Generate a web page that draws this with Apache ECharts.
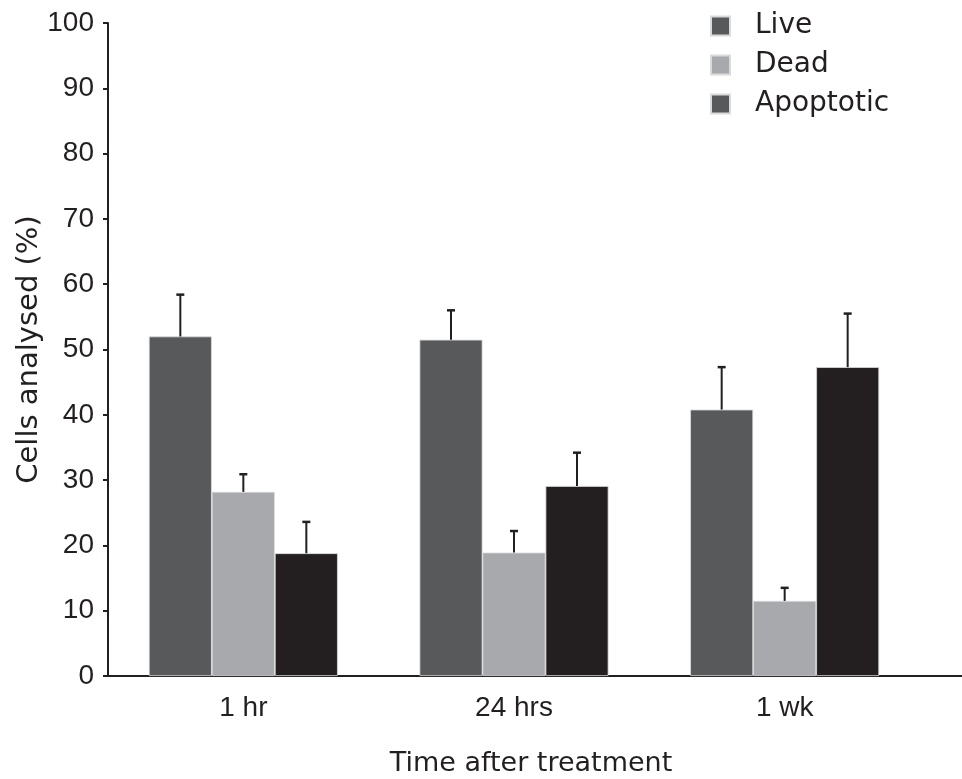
<!DOCTYPE html>
<html>
<head>
<meta charset="utf-8">
<script src="https://cdn.jsdelivr.net/npm/echarts@6/dist/echarts.min.js"></script>
<style>
  html, body { margin: 0; padding: 0; background: #fff; }
  #main { width: 962px; height: 779px; }
</style>
</head>
<body>
<div id="main"></div>
<script>
const categories = ['1 hr', '24 hrs', '1 wk'];
const live = [52.0, 51.5, 40.8];
const liveErr = [6.4, 4.5, 6.5];
const dead = [28.2, 18.9, 11.5];
const deadErr = [2.7, 3.3, 2.0];
const apoptotic = [18.8, 29.1, 47.3];
const apoptoticErr = [4.8, 5.1, 8.2];

const INK = '#231f20';
const BAR_W = 63;
const GRID_RIGHT = 42;

const chart = echarts.init(document.getElementById('main'));

// upward-only error whiskers, shifted to sit on the matching bar
function errorSeries(name, vals, errs, offset) {
  return {
    type: 'custom',
    name: name + ' error',
    z: 10,
    silent: true,
    data: vals.map((v, i) => [i, v, errs[i]]),
    encode: { x: 0, y: 1 },
    renderItem: (params, api) => {
      const base = api.coord([api.value(0), api.value(1)]);
      const top = api.coord([api.value(0), api.value(1) + api.value(2)]);
      const x = base[0] + offset;
      return {
        type: 'group',
        children: [
          { type: 'line', shape: { x1: x, y1: base[1], x2: x, y2: top[1] }, style: { stroke: INK, lineWidth: 2 } },
          { type: 'line', shape: { x1: x - 4, y1: top[1], x2: x + 4, y2: top[1] }, style: { stroke: INK, lineWidth: 2.5 } }
        ]
      };
    }
  };
}

function barSeries(name, vals, color) {
  return {
    type: 'bar',
    name: name,
    data: vals,
    barWidth: BAR_W,
    barGap: '0%',
    itemStyle: { color: color, borderColor: '#d9dadb', borderWidth: 0.8 }
  };
}

const option = {
  animation: false,
  backgroundColor: '#fff',
  grid: { left: 108, right: GRID_RIGHT, top: 23, bottom: 103, outerBoundsMode: 'none' },
  legend: {
    orient: 'vertical',
    left: 705,
    top: 7,
    icon: 'rect',
    itemWidth: 19,
    itemHeight: 19,
    itemGap: 11,
    textStyle: { fontFamily: 'DejaVu Sans', fontSize: 28, color: INK, padding: [0, 0, 0, 20] },
    data: [
      { name: 'Live' },
      { name: 'Dead' },
      { name: 'Apoptotic', itemStyle: { color: '#58595b' } }
    ]
  },
  xAxis: {
    type: 'category',
    data: categories,
    name: 'Time after treatment',
    nameLocation: 'middle',
    nameGap: 74,
    nameMoveOverlap: false,
    nameTextStyle: { fontFamily: 'DejaVu Sans', fontSize: 27, color: INK, padding: [0, 0, 0, 34] },
    axisLine: { lineStyle: { color: INK, width: 2 } },
    axisTick: { length: 6, lineStyle: { color: INK, width: 2 } },
    axisLabel: { fontFamily: 'Liberation Sans', fontSize: 28, color: INK, margin: 18 }
  },
  yAxis: {
    type: 'value',
    min: 0,
    max: 100,
    interval: 10,
    name: 'Cells analysed (%)',
    nameLocation: 'middle',
    nameGap: 64,
    nameMoveOverlap: false,
    nameTextStyle: { fontFamily: 'DejaVu Sans', fontSize: 29, color: INK },
    splitLine: { show: false },
    axisLine: { show: true, lineStyle: { color: INK, width: 2 } },
    axisTick: { show: true, length: 5, lineStyle: { color: INK, width: 2 } },
    axisLabel: { fontFamily: 'Liberation Sans', fontSize: 28, color: INK, margin: 14 }
  },
  series: [
    barSeries('Live', live, '#58595b'),
    barSeries('Dead', dead, '#a7a9ac'),
    barSeries('Apoptotic', apoptotic, INK),
    errorSeries('Live', live, liveErr, -BAR_W),
    errorSeries('Dead', dead, deadErr, 0),
    errorSeries('Apoptotic', apoptotic, apoptoticErr, BAR_W)
  ]
};

chart.setOption(option);

// the printed x axis runs on past the last category to the figure edge
const axisY = chart.convertToPixel({ yAxisIndex: 0 }, 0);
const w = chart.getWidth();
chart.setOption({
  graphic: [{
    type: 'line',
    shape: { x1: w - GRID_RIGHT, y1: axisY, x2: w, y2: axisY },
    style: { stroke: INK, lineWidth: 2 },
    z: 5
  }]
});
</script>
</body>
</html>
